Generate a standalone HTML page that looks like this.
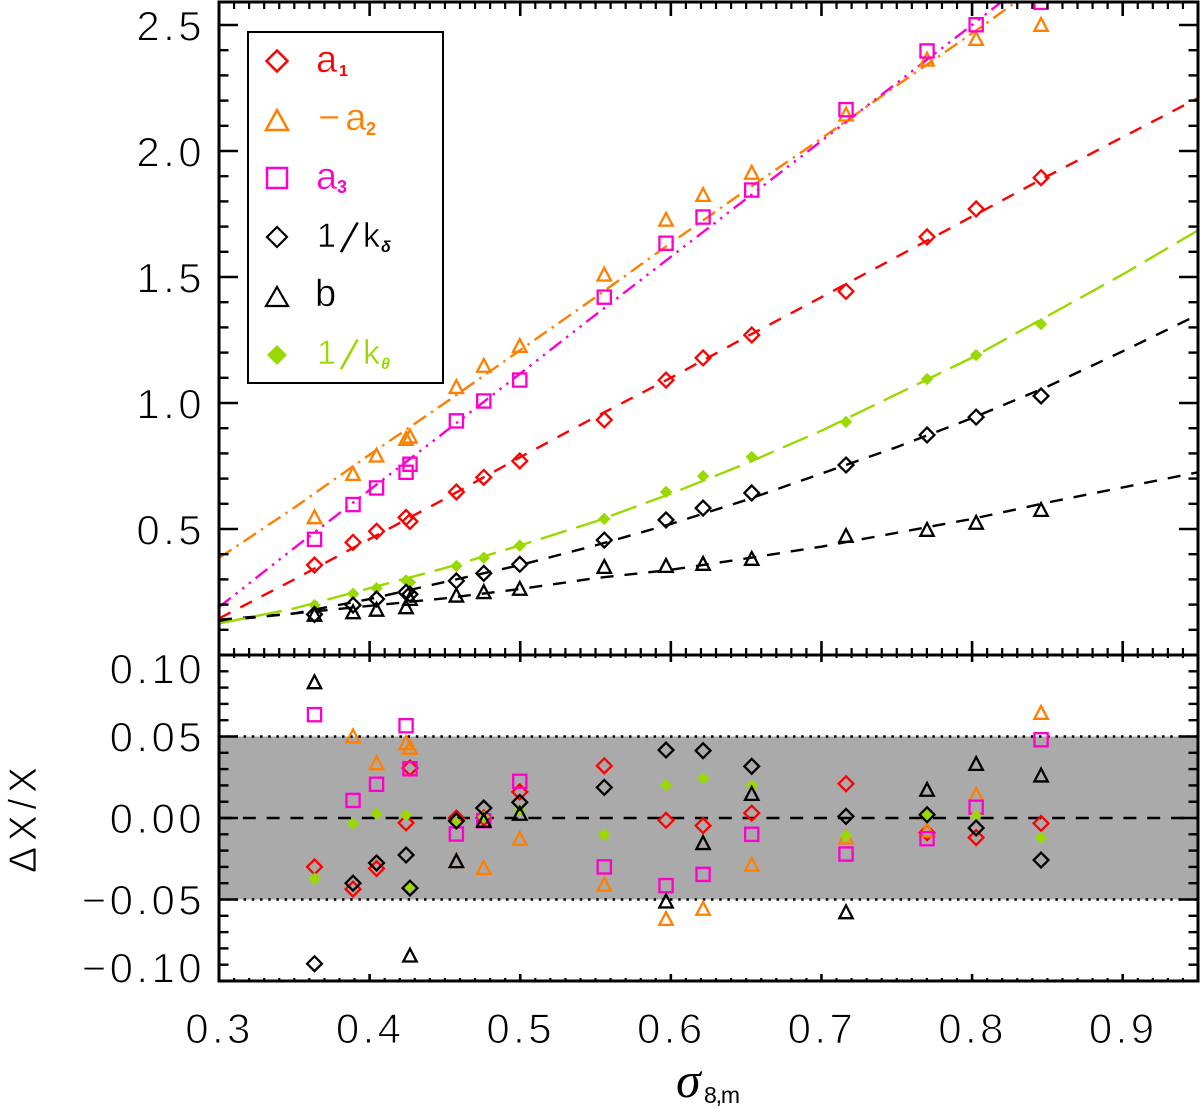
<!DOCTYPE html>
<html>
<head>
<meta charset="utf-8">
<title>Fit coefficients versus sigma 8,m</title>
<style>
html,body{margin:0;padding:0;background:#fff;}
svg{display:block;}
text{font-family:"Liberation Sans","DejaVu Sans",sans-serif;}
.tick{font-size:42px;letter-spacing:3.4px;fill:#000;stroke:#fff;stroke-width:1.1px;paint-order:fill stroke;}
.leg{stroke:#fff;stroke-width:.5px;paint-order:fill stroke;}
.slash{stroke:#fff;stroke-width:.9px;paint-order:fill stroke;}
.sub{font-weight:bold;}
</style>
</head>
<body>
<svg id="chart" width="1200" height="1107" viewBox="0 0 1200 1107" xmlns="http://www.w3.org/2000/svg">
<defs>
<clipPath id="clip-top"><rect x="219" y="2" width="979" height="653"/></clipPath>
<clipPath id="clip-bottom"><rect x="219" y="655" width="979" height="326"/></clipPath>
</defs>
<rect width="1200" height="1107" fill="#fff"/>
<g id="bottom-back"></g>
<g id="top-lines" clip-path="url(#clip-top)"></g>
<g id="top-marks" clip-path="url(#clip-top)"></g>
<g id="bottom-marks" clip-path="url(#clip-bottom)"></g>
<g id="axes"></g>
<g id="labels"></g>

<text transform="translate(36,873) rotate(-90)" font-size="39" textLength="106" lengthAdjust="spacing" fill="#000" stroke="#fff" stroke-width=".8" paint-order="fill stroke">ΔX/X</text>
<g>
<text x="676" y="1097" font-size="50" font-style="italic" style="font-family:'Liberation Serif','DejaVu Serif',serif">σ</text>
<text x="704" y="1103" font-size="23" textLength="36" lengthAdjust="spacing">8,m</text>
</g>

<g>
<rect x="248" y="32" width="195" height="351" fill="#fff" stroke="#000" stroke-width="2"/>
<g>
<polygon points="277,50.5 287.500,61 277,71.500 266.500,61" fill="none" stroke="#ff0000" stroke-width="2.500"/>
<text class="leg" x="316" y="72" font-size="38" fill="#ff0000">a</text>
<text class="sub" x="339" y="76" font-size="16" fill="#ff0000">1</text>
</g>
<g>
<polygon points="277,110 288,130 266,130" fill="none" stroke="#ff7f00" stroke-width="2.500"/>
<text class="leg" x="318" y="130" font-size="38" letter-spacing="5" fill="#ff7f00">−a</text>
<text class="sub" x="366" y="135" font-size="18" fill="#ff7f00">2</text>
</g>
<g>
<rect x="267" y="168" width="20" height="20" fill="none" stroke="#ff00cc" stroke-width="2.500"/>
<text class="leg" x="316" y="189" font-size="38" fill="#ff00cc">a</text>
<text class="sub" x="337" y="193" font-size="18" fill="#ff00cc">3</text>
</g>
<g>
<polygon points="277,227 287,237 277,247 267,237" fill="none" stroke="#000" stroke-width="2.200"/>
<text class="leg" x="317" y="247" font-size="34" fill="#000">1</text>
<text class="slash" transform="rotate(14 350 237)" x="343" y="254" font-size="46" fill="#000">/</text>
<text class="leg" x="363" y="247" font-size="34" fill="#000">k</text>
<text class="sub" x="381" y="252" font-size="16" font-style="italic" fill="#000">δ</text>
</g>
<g>
<polygon points="277,287 288,306 266,306" fill="none" stroke="#000" stroke-width="2.200"/>
<text class="leg" x="315" y="306" font-size="38" fill="#000">b</text>
</g>
<g>
<polygon points="277,345 287,355 277,365 267,355" fill="#99d900"/>
<text class="leg" x="317" y="364" font-size="34" fill="#99d900">1</text>
<text class="slash" transform="rotate(14 350 354)" x="343" y="371" font-size="46" fill="#99d900">/</text>
<text class="leg" x="363" y="364" font-size="34" fill="#99d900">k</text>
<text class="sub" x="381" y="369" font-size="16" font-style="italic" fill="#99d900">θ</text>
</g>
</g>
</svg>
<script>
// Simulation sigma values
const sigma = [0.3634,0.3890,0.4046,0.4242,0.4268,0.4576,0.4758,0.4997,0.5558,0.5968,0.6214,0.6537,0.7163,0.7701,0.8027,0.8458];

// Main panel measurements
const a1Values = [0.357,0.447,0.491,0.546,0.530,0.647,0.705,0.770,0.933,1.091,1.179,1.270,1.443,1.659,1.770,1.894];
const a2Values = [0.546,0.718,0.791,0.857,0.866,1.063,1.147,1.226,1.509,1.727,1.825,1.913,2.144,2.362,2.444,2.500];
const a3Values = [0.459,0.597,0.663,0.725,0.757,0.929,1.008,1.091,1.420,1.634,1.738,1.845,2.164,2.397,2.501,2.590];
const kDeltaValues = [0.161,0.198,0.222,0.249,0.241,0.294,0.324,0.360,0.456,0.536,0.583,0.643,0.754,0.873,0.944,1.028];
const bValues = [0.159,0.169,0.179,0.189,0.222,0.235,0.249,0.262,0.349,0.353,0.361,0.381,0.472,0.496,0.524,0.575];
const kThetaValues = [0.198,0.243,0.265,0.296,0.288,0.353,0.386,0.434,0.540,0.647,0.710,0.786,0.925,1.095,1.190,1.313];

// Fit curves
const fitSigma = [0.30,0.35,0.40,0.45,0.50,0.55,0.60,0.65,0.70,0.75,0.80,0.85,0.90,0.95];
const a1Fit = [0.145,0.300,0.460,0.620,0.785,0.945,1.100,1.262,1.420,1.580,1.740,1.900,2.055,2.210];
const a2Fit = [0.385,0.585,0.795,1.000,1.210,1.420,1.635,1.845,2.050,2.260,2.467,2.680,2.900,3.100];
const a3Fit = [0.190,0.425,0.655,0.885,1.117,1.350,1.580,1.810,2.040,2.270,2.500,2.735,2.970,3.200];
const kDeltaFit = [0.135,0.165,0.222,0.290,0.357,0.435,0.520,0.615,0.720,0.825,0.940,1.065,1.205,1.350];
const bFit = [0.140,0.165,0.195,0.225,0.262,0.305,0.338,0.383,0.430,0.485,0.540,0.605,0.665,0.725];
const kThetaFit = [0.125,0.185,0.265,0.345,0.435,0.530,0.640,0.760,0.890,1.035,1.180,1.345,1.510,1.685];

// Residuals; some fall outside the panel range and are clipped
const a1Resid = [-0.030,-0.0436,-0.031,-0.003,0.0307,0.000,0.000,0.016,0.032,-0.0014,-0.0047,0.003,0.021,-0.009,-0.012,-0.0033];
const a2Resid = [-0.130,0.050,0.0335,0.0458,0.043,-0.0266,-0.0307,-0.0129,-0.041,-0.062,-0.0558,-0.0288,-0.012,-0.0078,0.0141,0.0644];
const a3Resid = [0.0634,0.0108,0.0207,0.0566,0.0302,-0.0098,-0.0017,0.0225,-0.030,-0.0415,-0.0346,-0.010,-0.0221,-0.0127,0.0066,0.048];
const kDeltaResid = [-0.0894,-0.040,-0.0276,-0.0227,-0.043,-0.0018,0.0061,0.0096,0.0188,0.0417,0.0413,0.0317,0.001,0.002,-0.0061,-0.0258];
const bResid = [0.0832,-0.140,-0.150,-0.180,-0.0845,-0.0266,-0.0018,0.0025,-0.110,-0.0513,-0.0155,0.0147,-0.0579,0.0172,0.0331,0.026];
const kThetaResid = [-0.0372,-0.0035,0.0026,0.0018,-0.0417,-0.003,0.0008,0.0049,-0.0102,0.0202,0.0243,0.0198,-0.0109,0.002,0.0014,-0.0121];

// Axis ticks and labels
const xTicks = [0.3,0.4,0.5,0.6,0.7,0.8,0.9];
const xTickLabels = ['0.3','0.4','0.5','0.6','0.7','0.8','0.9'];
const yTopTicks = [0.5,1.0,1.5,2.0,2.5];
const yTopLabels = ['0.5','1.0','1.5','2.0','2.5'];
const yBottomTicks = [-0.05,0,0.05];
const yBottomLabels = ['−0.10','−0.05','0.00','0.05','0.10'];
const yBottomLabelValues = [-0.0917,-0.05,0,0.05,0.0917];

const SVGNS = 'http://www.w3.org/2000/svg';
const xMin = 0.3, xMax = 0.95;
const frameL = 219, frameR = 1198, topT = 2, topB = 655, botT = 655, botB = 981;
const sx = v => frameL + (v - xMin) / (xMax - xMin) * (frameR - frameL);
const syTop = v => 655 - v * 252;
const syBot = v => 818 - v * 1630;

function make(parent, tag, name, attrs) {
  const node = document.createElementNS(SVGNS, tag);
  
  
  for (const k in attrs) node.setAttribute(k, attrs[k]);
  parent.appendChild(node);
  return node;
}

const pts = arr => arr.map(p => p[0].toFixed(2) + ',' + p[1].toFixed(2)).join(' ');

function marker(parent, shape, name, cx, cy, color) {
  if (shape === 'diamond') {
    const r = 7.4;
    make(parent, 'polygon', name, {points: pts([[cx,cy-r],[cx+r,cy],[cx,cy+r],[cx-r,cy]]), fill:'none', stroke:color, 'stroke-width':2.3});
  } else if (shape === 'fill') {
    const r = 6.2;
    make(parent, 'polygon', name, {points: pts([[cx,cy-r],[cx+r,cy],[cx,cy+r],[cx-r,cy]]), fill:color});
  } else if (shape === 'square') {
    make(parent, 'rect', name, {x:cx-6.6, y:cy-6.6, width:13.2, height:13.2, fill:'none', stroke:color, 'stroke-width':2.3});
  } else {
    make(parent, 'polygon', name, {points: pts([[cx,cy-7],[cx+6.7,cy+5.8],[cx-6.7,cy+5.8]]), fill:'none', stroke:color, 'stroke-width':2.3});
  }
}

// Residual panel background
const back = document.getElementById('bottom-back');
make(back, 'rect', 'tolerance-band', {x:frameL, y:syBot(0.05), width:frameR-frameL, height:syBot(-0.05)-syBot(0.05), fill:'#aaaaaa'});
make(back, 'line', 'tolerance-upper-line', {x1:frameL, x2:frameR, y1:syBot(0.05), y2:syBot(0.05), stroke:'#000', 'stroke-width':2.5, 'stroke-dasharray':'2.5 5.7'});
make(back, 'line', 'tolerance-lower-line', {x1:frameL, x2:frameR, y1:syBot(-0.05), y2:syBot(-0.05), stroke:'#000', 'stroke-width':2.5, 'stroke-dasharray':'2.5 5.7'});
make(back, 'line', 'zero-line', {x1:frameL, x2:frameR, y1:syBot(0), y2:syBot(0), stroke:'#000', 'stroke-width':2.6, 'stroke-dasharray':'13 10.8'});

// Fit lines
const topLines = document.getElementById('top-lines');
const fits = [
  ['b-fit-line', bFit, '#000', '13 11'],
  ['k-delta-fit-line', kDeltaFit, '#000', '13 11'],
  ['a1-fit-line', a1Fit, '#ff0000', '13 11'],
  ['a2-fit-line', a2Fit, '#ff7f00', '15 6 2.5 6'],
  ['a3-fit-line', a3Fit, '#ff00cc', '15 6 2.5 6 2.5 6 2.5 6'],
  ['k-theta-fit-line', kThetaFit, '#99d900', '27 10']
];
fits.forEach(f => {
  make(topLines, 'polyline', f[0], {points: pts(fitSigma.map((s,i) => [sx(s), syTop(f[1][i])])), fill:'none', stroke:f[2], 'stroke-width':2.4, 'stroke-dasharray':f[3]});
});

// Points, drawn back to front
const series = [
  ['a1', a1Values, a1Resid, 'diamond', '#ff0000'],
  ['a2', a2Values, a2Resid, 'triangle', '#ff7f00'],
  ['a3', a3Values, a3Resid, 'square', '#ff00cc'],
  ['k-theta', kThetaValues, kThetaResid, 'fill', '#99d900'],
  ['k-delta', kDeltaValues, kDeltaResid, 'diamond', '#000'],
  ['b', bValues, bResid, 'triangle', '#000']
];
const topMarks = document.getElementById('top-marks');
const bottomMarks = document.getElementById('bottom-marks');
series.forEach(s => {
  sigma.forEach((x, i) => {
    marker(topMarks, s[3], 'point-' + s[0], sx(x), syTop(s[1][i]), s[4]);
    marker(bottomMarks, s[3], 'residual-' + s[0], sx(x), syBot(s[2][i]), s[4]);
  });
});

// Axes
const axes = document.getElementById('axes');
function seg(name, x1, y1, x2, y2, w) {
  make(axes, 'line', name, {x1:x1, y1:y1, x2:x2, y2:y2, stroke:'#000', 'stroke-width':w});
}
make(axes, 'rect', 'main-panel-frame', {x:frameL, y:topT, width:frameR-frameL, height:topB-topT, fill:'none', stroke:'#000', 'stroke-width':3});
make(axes, 'rect', 'residual-panel-frame', {x:frameL, y:botT, width:frameR-frameL, height:botB-botT, fill:'none', stroke:'#000', 'stroke-width':3});

for (let i = 1; i < 65; i++) {
  const v = xMin + i * 0.01;
  const major = i % 10 === 0;
  const x = sx(v);
  seg('x-tick-top', x, topT, x, topT + (major ? 14 : 7), major ? 2.6 : 2.2);
  seg('x-tick-middle-up', x, topB, x, topB - (major ? 14 : 7), major ? 2.6 : 2.2);
  seg('x-tick-middle-down', x, botT, x, botT + (major ? 7 : 3), major ? 2.6 : 2.2);
  seg('x-tick-bottom', x, botB, x, botB - (major ? 7 : 3), major ? 2.6 : 2.2);
}
for (let i = 1; i < 26; i++) {
  const y = syTop(i * 0.1);
  const major = i % 5 === 0;
  const len = major ? 19 : 9.5;
  seg('y-tick-main-left', frameL, y, frameL + len, y, 2.4);
  seg('y-tick-main-right', frameR, y, frameR - len, y, 2.4);
}
for (let i = -9; i < 10; i++) {
  const v = i * 0.01;
  const y = syBot(v);
  const major = yBottomTicks.some(t => Math.abs(t - v) < 1e-6);
  const len = major ? 19 : 9.5;
  seg('y-tick-residual-left', frameL, y, frameL + len, y, 2.4);
  seg('y-tick-residual-right', frameR, y, frameR - len, y, 2.4);
}

// Tick labels
const labels = document.getElementById('labels');
function label(name, x, y, anchor, str) {
  const t = make(labels, 'text', name, {x:x, y:y, 'text-anchor':anchor, 'class':'tick'});
  t.textContent = str;
}
xTicks.forEach((v, i) => label('x-tick-label', sx(v) + 0.5, 1043, 'middle', xTickLabels[i]));
yTopTicks.forEach((v, i) => label('y-tick-label-main', 205, syTop(v) + 15.5, 'end', yTopLabels[i]));
yBottomLabelValues.forEach((v, i) => label('y-tick-label-residual', 205, syBot(v) + 15, 'end', yBottomLabels[i]));
</script>
</body>
</html>
